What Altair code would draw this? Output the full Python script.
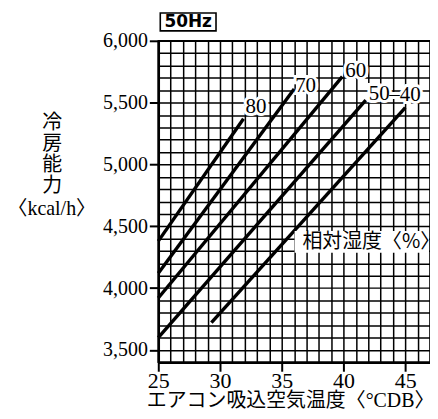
import altair as alt
import pandas as pd

# ---- data ----
rh = [80, 70, 60, 50, 40]
x_start = [25, 25, 25, 25, 29.3]
y_start = [4380, 4120, 3920, 3600, 3720]
x_end = [31.9, 36.0, 39.9, 41.8, 45.0]
y_end = [5370, 5610, 5710, 5520, 5460]
rh_labels = ["80", "70", "60", "50", "–40"]

x_ticks = list(range(25, 48))
y_ticks = list(range(3400, 6001, 100))

rows = []
for r, xs, ys, xe, ye in zip(rh, x_start, y_start, x_end, y_end):
    rows.append({"rh": r, "t": xs, "cap": ys, "o": 0})
    rows.append({"rh": r, "t": xe, "cap": ye, "o": 1})
lines_df = pd.DataFrame(rows)
ends_df = pd.DataFrame({"rh": rh, "t": x_end, "cap": y_end, "label": rh_labels})
one = pd.DataFrame({"a": [0]})

SERIF = "Liberation Serif, Noto Sans CJK JP"
CJK = "Noto Sans CJK JP"

x_scale = alt.Scale(domain=[25, 47], nice=False, zero=False)
y_scale = alt.Scale(domain=[3400, 6000], nice=False, zero=False)

x_axis = alt.Axis(
    values=x_ticks, grid=True, gridColor="#000", gridWidth=1.5, gridOpacity=1,
    labelExpr="datum.value % 5 === 0 ? datum.label : ''",
    labelFont=SERIF, labelFontSize=22, labelColor="#000", labelPadding=-1,
    labelOverlap=False, labelFlush=False,
    tickOpacity={"condition": {"test": "datum.value % 5 === 0", "value": 1}, "value": 0},
    tickSize=9, tickColor="#000", tickWidth=2,
    domainColor="#000", domainWidth=2.5,
    title="エアコン吸込空気温度〈°CDB〉", titleFont=SERIF, titleFontSize=20,
    titleFontWeight="normal", titleColor="#000",
    titleX=-12, titleY=44, titleAlign="left", titleBaseline="alphabetic",
)

y_axis = alt.Axis(
    values=y_ticks, grid=True, gridColor="#000", gridWidth=1.5, gridOpacity=1,
    labelExpr="datum.value % 500 === 0 ? format(datum.value, ',') : ''",
    labelFont=SERIF, labelFontSize=20, labelColor="#000", labelPadding=2,
    labelOverlap=False, labelFlush=False,
    tickOpacity={"condition": {"test": "datum.value % 500 === 0", "value": 1}, "value": 0},
    tickSize=9, tickColor="#000", tickWidth=2,
    domainColor="#000", domainWidth=2.5,
    title=["冷", "房", "能", "力"],
    titleFont=SERIF, titleFontSize=20,
    titleFontWeight="normal", titleColor="#000", titleAngle=0,
    titleX=-107, titleY=72, titleAlign="center", titleBaseline="top",
    titleLineHeight=21,
)

X = alt.X("t:Q", scale=x_scale, axis=x_axis)
Y = alt.Y("cap:Q", scale=y_scale, axis=y_axis)

lines = alt.Chart(lines_df).mark_line(color="black", strokeWidth=3.4).encode(
    x=X, y=Y, detail="rh:N", order="o:Q",
)

# label offsets (pixels) from each line's end
offsets = {80: (2, -12), 70: (1, -3), 60: (3, -6), 50: (3, -6), 40: (-16, -13)}
halos, texts = [], []
for r in rh:
    dx, dy = offsets[r]
    base = alt.Chart(ends_df).transform_filter(alt.datum.rh == r)
    halos.append(base.mark_text(align="left", baseline="middle", dx=dx, dy=dy, font=SERIF,
                                fontSize=21, fill="white", stroke="white", strokeWidth=6).encode(
        x=X, y=Y, text="label:N"))
    texts.append(base.mark_text(align="left", baseline="middle", dx=dx, dy=dy, font=SERIF,
                                fontSize=21, color="black").encode(x=X, y=Y, text="label:N"))

unit_text = alt.Chart(one).mark_text(font=SERIF, fontSize=20, color="black",
                                     align="center", baseline="middle").encode(
    x=alt.value(-107), y=alt.value(169), text=alt.value("〈kcal/h〉"))

rh_title_bg = alt.Chart(one).mark_rect(fill="white", stroke=None).encode(
    x=alt.value(137), x2=alt.value(272), y=alt.value(191), y2=alt.value(213))
rh_title = alt.Chart(one).mark_text(font=CJK, fontSize=20, color="black",
                                    align="center", baseline="middle").encode(
    x=alt.value(214), y=alt.value(202), text=alt.value("相対湿度〈%〉"))

hz_box = alt.Chart(one).mark_rect(fill="white", stroke="black", strokeWidth=1.6).encode(
    x=alt.value(2), x2=alt.value(58), y=alt.value(-28), y2=alt.value(-10))
hz_text = alt.Chart(one).mark_text(font="DejaVu Sans", fontWeight="bold", fontSize=17,
                                   color="black", align="center", baseline="middle").encode(
    x=alt.value(30), y=alt.value(-19), text=alt.value("50Hz"))

chart = alt.layer(lines, rh_title_bg, *halos, *texts, unit_text, rh_title,
                  hz_box, hz_text).properties(
    width=273, height=323,
    autosize=alt.AutoSizeParams(type="none"),
    padding={"left": 151, "top": 32, "right": 0, "bottom": 47},
    background="white",
).configure_view(stroke="black", strokeWidth=1.5)

chart.save("out.html", embed_options={"renderer": "svg", "actions": False})
